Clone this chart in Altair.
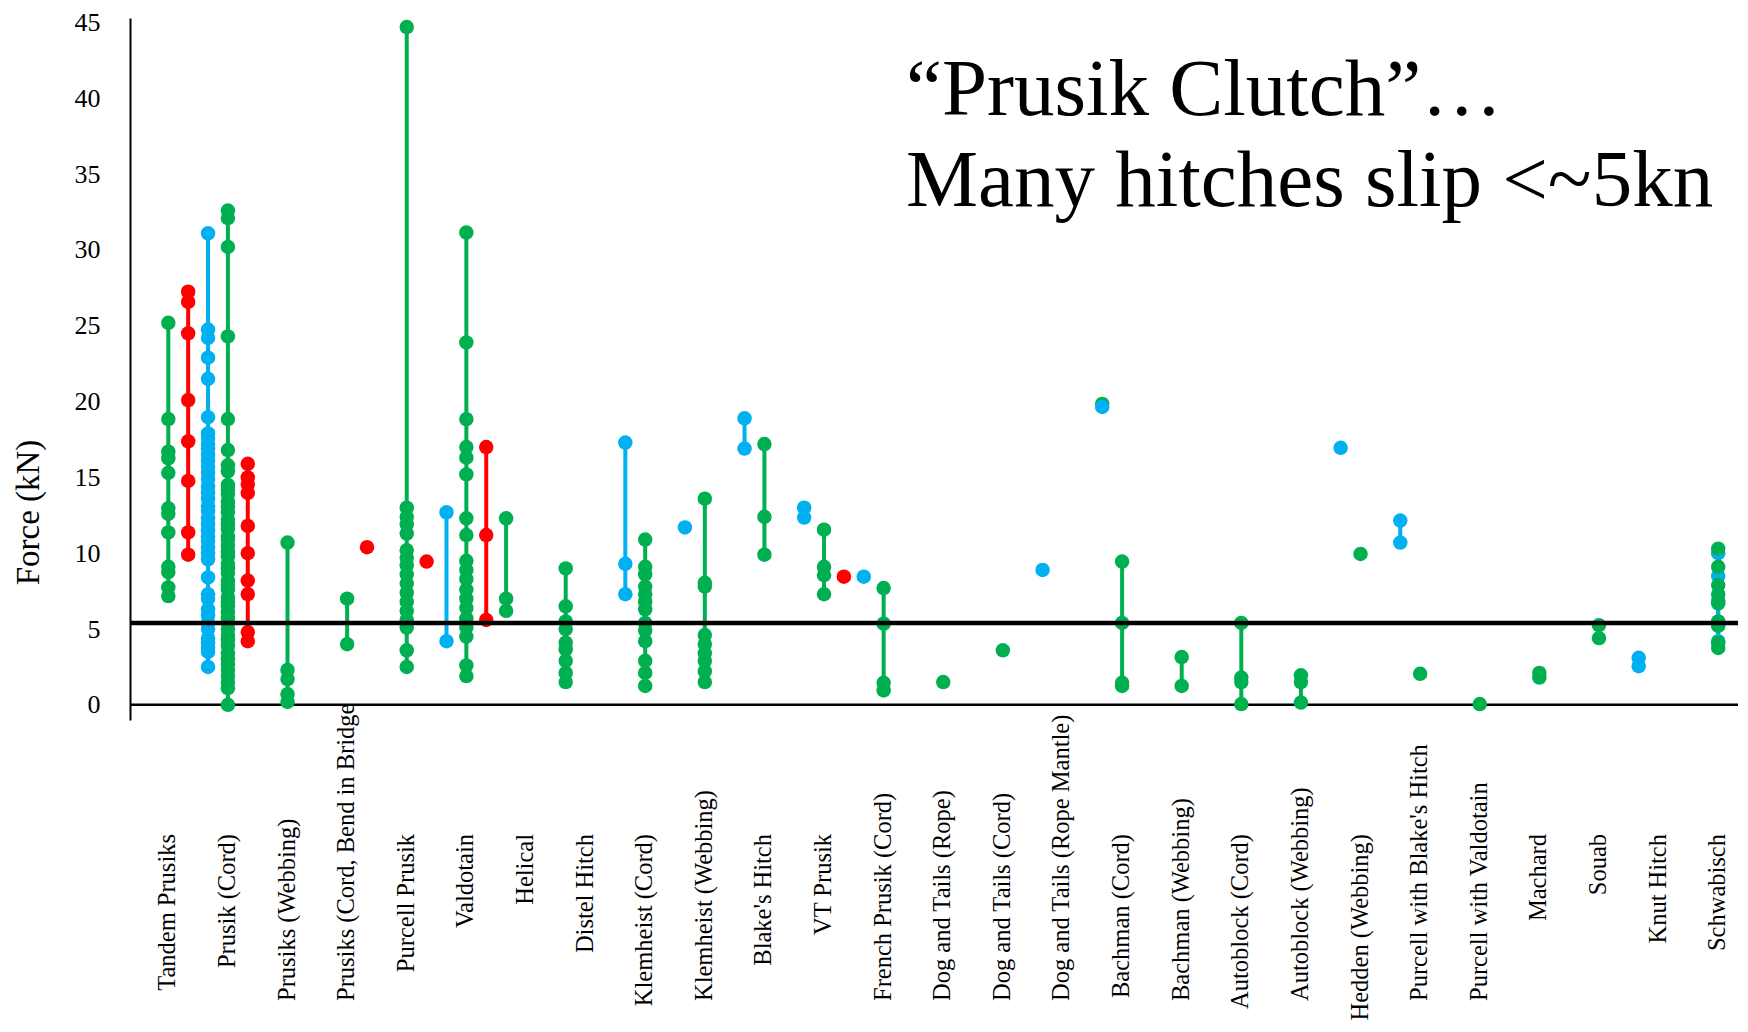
import altair as alt
import pandas as pd

# ---------------- data ----------------
CATEGORIES = [
    "Tandem Prusiks", "Prusik (Cord)", "Prusiks (Webbing)", "Prusiks (Cord, Bend in Bridge",
    "Purcell Prusik", "Valdotain", "Helical", "Distel Hitch", "Klemheist (Cord)",
    "Klemheist (Webbing)", "Blake's Hitch", "VT Prusik", "French Prusik (Cord)",
    "Dog and Tails (Rope)", "Dog and Tails (Cord)", "Dog and Tails (Rope Mantle)",
    "Bachman (Cord)", "Bachman (Webbing)", "Autoblock (Cord)", "Autoblock (Webbing)",
    "Hedden (Webbing)", "Purcell with Blake's Hitch", "Purcell with Valdotain",
    "Machard", "Souab", "Knut Hitch", "Schwabisch",
]
SLOTS = ["L", "C", "R"]
SERIES = ["blue", "green", "red"]
SERIES_COLORS = ["#00B0F0", "#00B050", "#FF0000"]
THRESHOLD = 5.4
TITLE_LINES = ["\u201cPrusik Clutch\u201d\u2026", "Many hitches slip <~5kn"]
Y_TICKS = [0, 5, 10, 15, 20, 25, 30, 35, 40, 45]

# (category, slot, series, values) -- list order is drawing order
GROUPS = [
    ("Tandem Prusiks", "C", "green", [25.2, 18.85, 16.7, 16.25, 15.3, 12.96, 12.6, 11.37, 9.1, 8.76, 7.74, 7.17]),
    ("Tandem Prusiks", "R", "red", [27.25, 26.57, 24.5, 20.1, 17.38, 14.77, 11.37, 9.9]),
    ("Prusik (Cord)", "L", "blue", [31.1, 24.75, 24.2, 22.9, 21.5, 18.97, 17.9, 17.6, 17.2, 16.9, 16.5, 16.1,
                                    15.7, 15.3, 14.9, 14.4, 14.0, 13.6, 13.1, 12.8, 12.3, 11.9, 11.5, 11.1,
                                    10.8, 10.4, 10.0, 9.6, 8.4, 7.3, 7.0, 6.3, 5.9, 5.4, 5.0, 4.4, 4.1, 3.8,
                                    3.5, 2.5]),
    ("Prusik (Cord)", "C", "green", [32.6, 32.1, 30.2, 24.3, 18.85, 16.8, 15.8, 15.4, 14.5, 14.2, 13.9, 13.4,
                                     13.1, 12.7, 12.2, 11.9, 11.6, 11.1, 10.9, 10.5, 10.1, 9.8, 9.3, 9.0, 8.7,
                                     8.2, 7.9, 7.6, 7.1, 6.8, 6.5, 6.1, 5.7, 5.4, 5.0, 4.6, 4.3, 3.9, 3.4, 3.0,
                                     2.7, 2.3, 1.9, 1.5, 1.1, 0.0]),
    ("Prusik (Cord)", "R", "red", [15.9, 15.0, 14.55, 13.98, 11.8, 10.0, 8.2, 7.3, 4.8, 4.2]),
    ("Prusiks (Webbing)", "C", "green", [10.7, 2.3, 1.7, 0.7, 0.2]),
    ("Prusiks (Cord, Bend in Bridge", "C", "green", [7.0, 4.0]),
    ("Prusiks (Cord, Bend in Bridge", "R", "red", [10.4]),
    ("Purcell Prusik", "C", "green", [44.7, 13.0, 12.4, 11.9, 11.3, 10.2, 9.7, 9.2, 8.6, 8.0, 7.4, 6.8, 6.2,
                                      5.6, 5.1, 3.6, 2.5]),
    ("Purcell Prusik", "R", "red", [9.45]),
    ("Valdotain", "L", "blue", [12.7, 4.2]),
    ("Valdotain", "C", "green", [31.15, 23.9, 18.84, 17.0, 16.3, 15.2, 12.3, 11.2, 9.5, 8.9, 8.3, 7.6, 7.0,
                                 6.4, 5.7, 5.1, 4.5, 2.6, 1.9]),
    ("Valdotain", "R", "red", [17.0, 11.2, 5.6]),
    ("Helical", "L", "green", [12.3, 7.0, 6.2]),
    ("Distel Hitch", "L", "green", [9.0, 6.5, 5.5, 5.0, 4.1, 3.65, 2.9, 2.1, 1.5]),
    ("Klemheist (Cord)", "L", "blue", [17.3, 9.3, 7.3]),
    ("Klemheist (Cord)", "C", "green", [10.9, 9.1, 8.6, 7.8, 7.3, 6.8, 6.3, 5.4, 4.9, 4.2, 2.9, 2.1, 1.25]),
    ("Klemheist (Webbing)", "L", "blue", [11.7]),
    ("Klemheist (Webbing)", "C", "green", [13.6, 8.05, 7.8, 4.6, 4.0, 3.4, 2.9, 2.2, 1.5]),
    ("Blake's Hitch", "L", "blue", [18.9, 16.9]),
    ("Blake's Hitch", "C", "green", [17.2, 12.4, 9.9]),
    ("VT Prusik", "L", "blue", [13.0, 12.35]),
    ("VT Prusik", "C", "green", [11.55, 9.1, 8.55, 7.3]),
    ("VT Prusik", "R", "red", [8.45]),
    ("French Prusik (Cord)", "L", "blue", [8.45]),
    ("French Prusik (Cord)", "C", "green", [7.7, 5.35, 1.45, 0.95]),
    ("Dog and Tails (Rope)", "C", "green", [1.5]),
    ("Dog and Tails (Cord)", "C", "green", [3.6]),
    ("Dog and Tails (Rope Mantle)", "L", "blue", [8.9]),
    ("Bachman (Cord)", "L", "green", [19.85]),
    ("Bachman (Cord)", "L", "blue", [19.65]),
    ("Bachman (Cord)", "C", "green", [9.45, 5.4, 1.45, 1.25]),
    ("Bachman (Webbing)", "C", "green", [3.15, 1.25]),
    ("Autoblock (Cord)", "C", "green", [5.4, 1.8, 1.5, 0.05]),
    ("Autoblock (Webbing)", "C", "green", [1.95, 1.5, 0.15]),
    ("Hedden (Webbing)", "L", "blue", [16.95]),
    ("Hedden (Webbing)", "C", "green", [9.95]),
    ("Purcell with Blake's Hitch", "L", "blue", [12.15, 10.7]),
    ("Purcell with Blake's Hitch", "C", "green", [2.05]),
    ("Purcell with Valdotain", "C", "green", [0.05]),
    ("Machard", "C", "green", [2.1, 1.8]),
    ("Souab", "C", "green", [5.25, 4.4]),
    ("Knut Hitch", "L", "blue", [3.1, 2.55]),
    ("Schwabisch", "C", "blue", [10.0, 8.5, 6.9, 5.3, 4.2]),
    ("Schwabisch", "C", "green", [10.3, 9.1, 7.9, 7.3, 6.7, 5.5, 5.2, 4.1, 3.75]),
]

# ---------------- tables ----------------
pt_rows, rule_rows = [], []
rank = {"green": 0, "blue": 1, "red": 2}
for gid, (cat, slot, ser, vals) in enumerate(GROUPS):
    for v in vals:
        pt_rows.append({"cat": cat, "slot": slot, "series": ser, "value": v, "gid": gid, "z": len(pt_rows)})
    rule_rows.append({"cat": cat, "slot": slot, "series": ser, "lo": min(vals), "hi": max(vals),
                      "gid": gid, "rank": rank[ser]})
points_df = pd.DataFrame(pt_rows)
rules_df = pd.DataFrame(rule_rows)
cats_df = pd.DataFrame({"cat": CATEGORIES})

FONT = "Liberation Serif"

x_scale = alt.Scale(domain=CATEGORIES, paddingInner=0, paddingOuter=0, range=[8.5, 1618])
x_enc = alt.X("cat:N", scale=x_scale, axis=None, sort=None)
xo_enc = alt.XOffset("slot:N", scale=alt.Scale(domain=SLOTS, paddingInner=0, paddingOuter=0))
y_scale = alt.Scale(domain=[-1, 45.3], nice=False, zero=False)
y_axis = alt.Axis(
    values=Y_TICKS, grid=False, ticks=False, domainColor="black", domainWidth=2,
    labelFont=FONT, labelFontSize=26, labelColor="black", labelPadding=30,
    titleFont=FONT, titleFontSize=33, titleFontWeight="normal", titleColor="black",
    titleX=-102, titleY=494, titleAlign="center", titleBaseline="middle", titleAngle=270,
)


def yq(field):
    return alt.Y(field, scale=y_scale, axis=y_axis, title="Force (kN)")


color_enc = alt.Color("series:N", scale=alt.Scale(domain=SERIES, range=SERIES_COLORS), legend=None)

rules = alt.Chart(rules_df).mark_rule(strokeWidth=4).encode(
    x=x_enc, xOffset=xo_enc, y=yq("lo:Q"), y2="hi:Q", color=color_enc,
    order=alt.Order("rank:Q"), detail="gid:N",
)

points = alt.Chart(points_df).mark_circle(size=210, opacity=1).encode(
    x=x_enc, xOffset=xo_enc, y=yq("value:Q"), color=color_enc, order=alt.Order("z:Q"),
)

zero_line = alt.Chart(pd.DataFrame({"v": [0]})).mark_rule(color="black", strokeWidth=2.5).encode(y=yq("v:Q"))
thr_line = alt.Chart(pd.DataFrame({"v": [THRESHOLD]})).mark_rule(color="black", strokeWidth=4.5).encode(y=yq("v:Q"))

short_labels = alt.Chart(cats_df).transform_filter("length(datum.cat) <= 16").mark_text(
    angle=270, align="right", baseline="middle", font=FONT, fontSize=24.5, color="black"
).encode(x=x_enc, y=alt.value(816), text="cat:N")

long_labels = alt.Chart(cats_df).transform_filter("length(datum.cat) > 16").mark_text(
    angle=270, align="left", baseline="middle", font=FONT, fontSize=24.5, color="black"
).encode(x=x_enc, y=alt.value(983), text="cat:N")

title_text = alt.Chart(pd.DataFrame({"a": [0]})).mark_text(
    align="left", baseline="alphabetic", font=FONT, fontSize=81, lineHeight=91,
    color="black", text=TITLE_LINES,
).encode(x=alt.value(776), y=alt.value(97))

chart = alt.layer(
    zero_line, rules, points, thr_line, short_labels, long_labels, title_text
).properties(
    width=1608, height=702,
    autosize=alt.AutoSizeParams(type="none"),
    padding={"left": 122, "top": 10, "right": 0, "bottom": 300},
).configure_view(stroke=None)

chart.save("out.html", embed_options={"renderer": "svg", "actions": False})
